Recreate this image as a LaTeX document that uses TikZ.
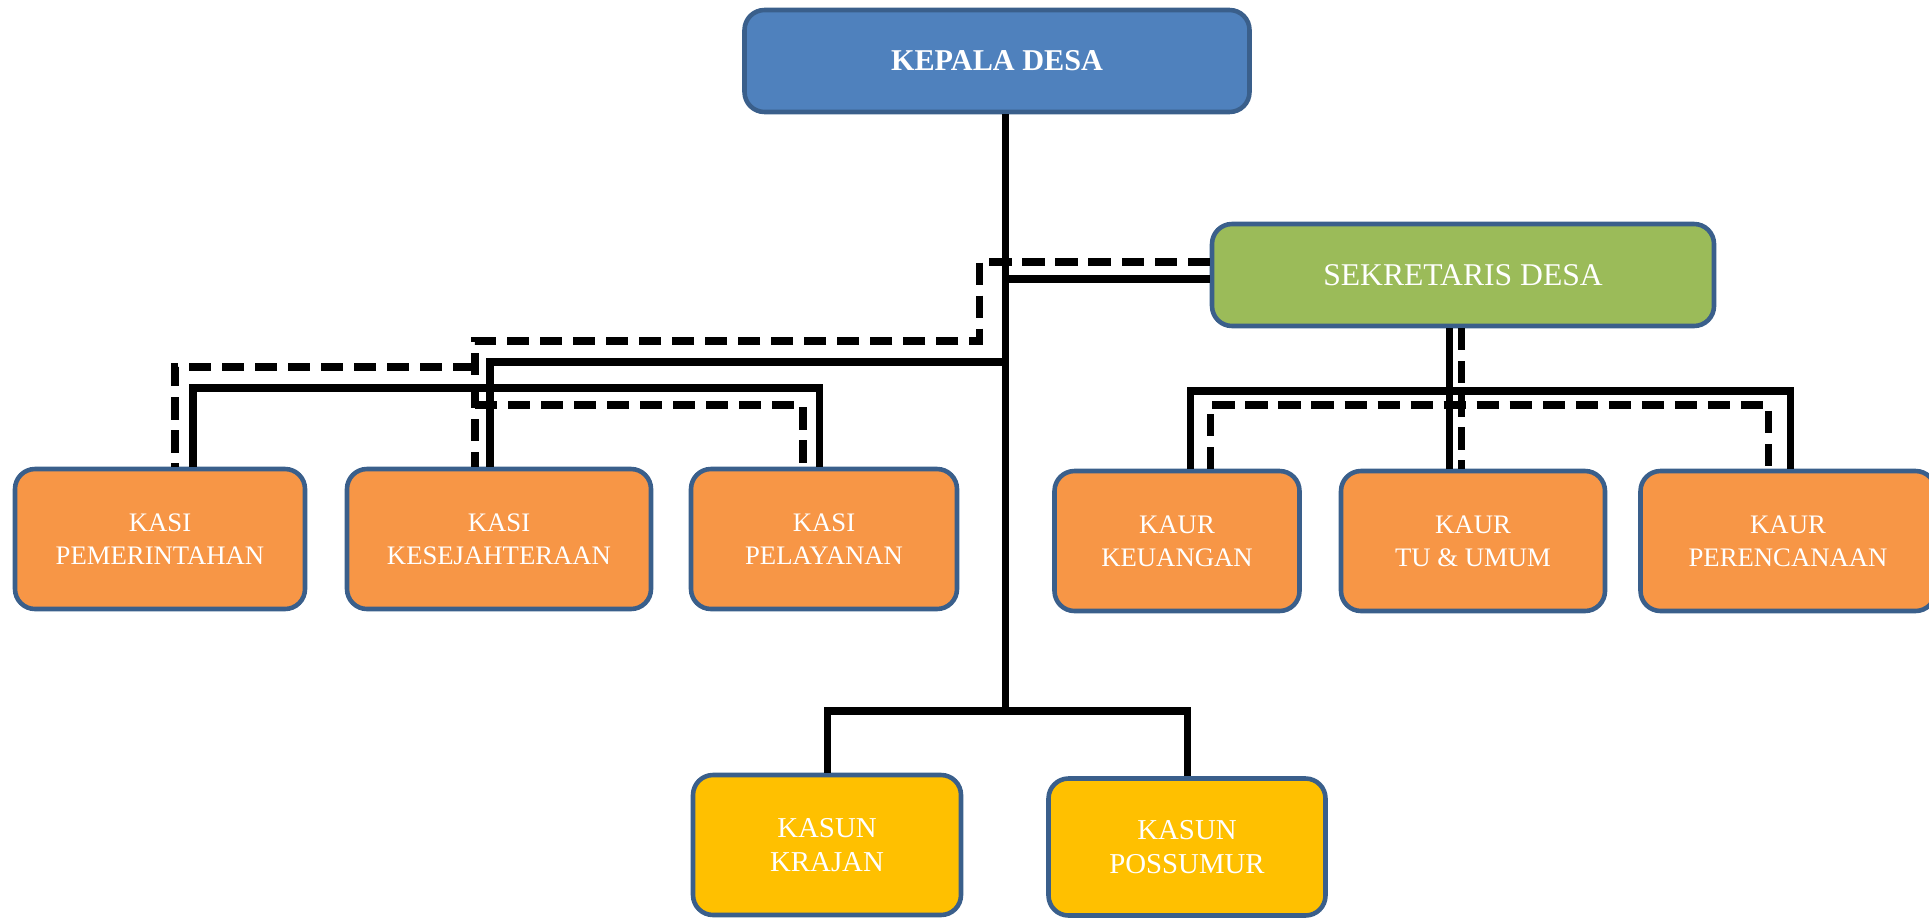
\documentclass[tikz,border=0pt]{standalone}
\usepackage{fontspec}
\setmainfont{Liberation Serif}
\definecolor{boxline}{HTML}{3A5F8B}
\definecolor{kepalablue}{HTML}{4F81BD}
\definecolor{sekgreen}{HTML}{9BBB59}
\definecolor{kasiorange}{HTML}{F79646}
\definecolor{kasunyellow}{HTML}{FFC000}
\begin{document}
\begin{tikzpicture}[
    unit/.style={rectangle, rounded corners=0.2cm, draw=boxline, line width=1.3pt, text=white, align=center, inner sep=0pt, minimum height=1.4cm, font=\fontsize{7.6}{9.3}\selectfont},
    edge/.style={line width=2pt, -},
    dashedge/.style={line width=2pt, dash pattern=on 6.3pt off 3.1pt}
]
\useasboundingbox (0,0) rectangle (19.29,9.17);

% Define units
\node[unit, fill=kepalablue, minimum width=5.05cm, minimum height=1.02cm, font=\fontsize{8.6}{10}\selectfont\bfseries] (kepala) at (9.97, 8.56) {KEPALA DESA};
\node[unit, fill=sekgreen, minimum width=5.02cm, minimum height=1.02cm, font=\fontsize{9}{11}\selectfont] (sekdes) at (14.63, 6.42) {SEKRETARIS DESA};
\node[unit, fill=kasiorange, minimum width=2.90cm] (kasipem) at (1.60, 3.78) {KASI\\PEMERINTAHAN};
\node[unit, fill=kasiorange, minimum width=3.04cm] (kasikes) at (4.99, 3.78) {KASI\\KESEJAHTERAAN};
\node[unit, fill=kasiorange, minimum width=2.66cm] (kasipel) at (8.24, 3.78) {KASI\\PELAYANAN};
\node[unit, fill=kasiorange, minimum width=2.45cm] (kaurkeu) at (11.77, 3.76) {KAUR\\KEUANGAN};
\node[unit, fill=kasiorange, minimum width=2.64cm] (kaurtu) at (14.73, 3.76) {KAUR\\TU \& UMUM};
\node[unit, fill=kasiorange, minimum width=2.95cm] (kaurren) at (17.88, 3.76) {KAUR\\PERENCANAAN};
\node[unit, fill=kasunyellow, minimum width=2.68cm, font=\fontsize{8.2}{9.6}\selectfont] (kasunkra) at (8.27, 0.72) {KASUN\\KRAJAN};
\node[unit, fill=kasunyellow, minimum width=2.77cm, minimum height=1.37cm, font=\fontsize{8.2}{9.6}\selectfont] (kasunpos) at (11.87, 0.70) {KASUN\\POSSUMUR};

% Define junctions
\coordinate (trunk) at (10.05, 2.06);
\coordinate (kesbar) at (4.90, 5.55);
\coordinate (kasibar) at (1.93, 5.29);
\coordinate (kasidash) at (4.75, 5.76);
\coordinate (sekturn) at (9.79, 6.55);
\coordinate (kaurbar) at (11.90, 5.26);
\coordinate (kaurdash) at (12.10, 5.12);

% Define edges
\draw[edge] (trunk |- kepala.south) -- (trunk);
\draw[edge] (kasunkra.north) |- (trunk) -| (kasunpos.north);
\draw[edge] (trunk |- sekdes.west) ++(0,-0.04) -- ([yshift=-0.04cm]sekdes.west);
\draw[edge] (trunk |- kesbar) -- (kesbar) -- (kesbar |- kasikes.north);
\draw[edge] (kasibar |- kasipem.north) -- (kasibar) -- (8.19, 5.29) -- (8.19, 0 |- kasipel.north);
\draw[edge] (kaurbar |- kaurkeu.north) -- (kaurbar) -- (17.90, 5.26) -- (17.90, 0 |- kaurren.north);
\draw[edge] (14.49, 0 |- sekdes.south) -- (14.49, 0 |- kaurtu.north);

% Define dashed edges
\draw[dashedge] (sekdes.west |- sekturn) -- (sekturn) |- (kasidash) -- (kasidash |- kasikes.north);
\draw[dashedge] (kasidash |- 0,5.50) -- (1.75, 5.50) -- (1.75, 0 |- kasipem.north);
\draw[dashedge] (kasidash |- 0,5.12) -- (8.03, 5.12) -- (8.03, 0 |- kasipel.north);
\draw[dashedge] (14.61, 0 |- sekdes.south) -- (14.61, 0 |- kaurtu.north);
\draw[dashedge] (kaurdash |- kaurkeu.north) -- (kaurdash) -- (17.68, 5.12) -- (17.68, 0 |- kaurren.north);

\end{tikzpicture}
\end{document}
